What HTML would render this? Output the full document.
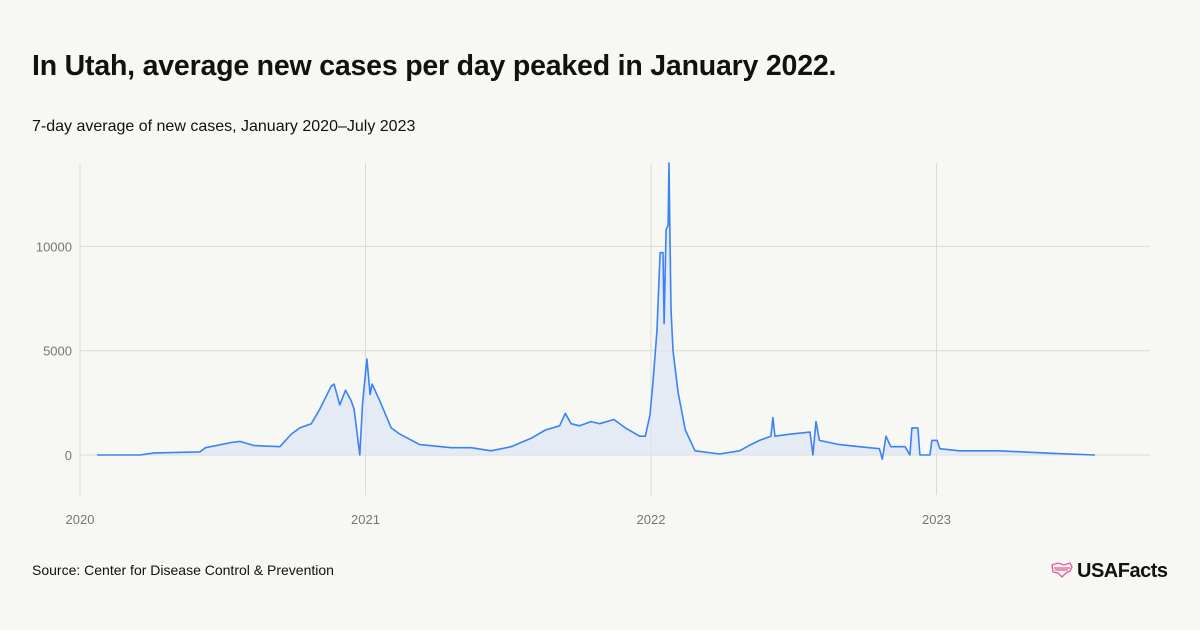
<!DOCTYPE html>
<html><head><meta charset="utf-8"><style>
body{margin:0;background:#f7f7f3;font-family:"Liberation Sans",sans-serif;}
#wrap{position:relative;width:1200px;height:630px;overflow:hidden;background:#f7f7f3}
h1{position:absolute;left:32px;top:50px;margin:0;font-size:28.5px;font-weight:bold;color:#111;letter-spacing:-0.2px}
.sub{position:absolute;left:32px;top:118px;font-size:16px;color:#111}
.src{position:absolute;left:32px;top:562px;font-size:14px;color:#111}
.logo{position:absolute;left:1050px;top:560px;font-size:20px;font-weight:bold;color:#111;letter-spacing:-0.5px}
</style></head><body>
<div id="wrap">
<h1>In Utah, average new cases per day peaked in January 2022.</h1>
<div class="sub">7-day average of new cases, January 2020–July 2023</div>
<svg id="chart" width="1200" height="630" style="position:absolute;left:0;top:0"></svg>
<div class="src">Source: Center for Disease Control &amp; Prevention</div>
<div class="logo"><svg width="24" height="18" viewBox="0 0 24 18" style="vertical-align:-2px;margin-right:3px"><path d="M2 4 L8 2 L14 4 L20 2 L22 6 L20 10 L16 12 L12 16 L8 12 L3 11 Z M4 7 L20 7 M5 9 L18 9" fill="none" stroke="#e8569c" stroke-width="1.3"/></svg>USAFacts</div>
</div>
<script>
const years=[0.06,0.21,0.26,0.42,0.44,0.53,0.56,0.61,0.70,0.74,0.77,0.81,0.84,0.88,0.89,0.91,0.93,0.95,0.96,0.98,0.99,1.005,1.016,1.023,1.05,1.09,1.12,1.19,1.30,1.37,1.44,1.51,1.58,1.63,1.68,1.70,1.72,1.75,1.79,1.82,1.87,1.91,1.96,1.98,1.996,2.007,2.021,2.032,2.042,2.046,2.053,2.06,2.063,2.067,2.07,2.077,2.095,2.12,2.154,2.24,2.31,2.35,2.38,2.42,2.427,2.434,2.49,2.557,2.567,2.578,2.59,2.66,2.73,2.80,2.81,2.823,2.84,2.89,2.907,2.914,2.935,2.942,2.977,2.984,3.002,3.012,3.08,3.22,3.40,3.555];
const cases=[0,0,100,150,350,600,650,450,400,1000,1300,1500,2200,3300,3400,2400,3100,2600,2200,0,2500,4600,2900,3400,2600,1300,1000,500,350,350,200,400,800,1200,1400,2000,1500,1400,1600,1500,1700,1300,900,900,1900,3500,6000,9700,9700,6300,10800,11000,14000,10000,7000,5000,3000,1200,200,50,200,500,700,900,1800,900,1000,1100,0,1600,700,500,400,300,-200,900,400,400,0,1300,1300,0,0,700,700,300,200,200,80,0];
const yTicks=[0,5000,10000];
const xTicks=[2020,2021,2022,2023];
const NS="http://www.w3.org/2000/svg",svg=document.getElementById('chart');
const xs=t=>80+t*285.5, ys=v=>455-v*0.02086;
function mk(tag,a){const e=document.createElementNS(NS,tag);for(const k in a)e.setAttribute(k,a[k]);svg.appendChild(e);return e;}
yTicks.forEach(v=>{const l=mk('line',{x1:80,x2:1150,y1:ys(v),y2:ys(v),stroke:'#dcdcd6'});


const t=mk('text',{x:72,y:ys(v)+5,'text-anchor':'end','font-size':13,fill:'#777','font-family':'Liberation Sans'});t.textContent=v;

});
xTicks.forEach(y=>{const x=xs(y-2020);const l=mk('line',{x1:x,x2:x,y1:163,y2:495,stroke:'#dcdcd6'});


const t=mk('text',{x:x,y:524,'text-anchor':'middle','font-size':13,fill:'#777','font-family':'Liberation Sans'});t.textContent=y;

});
let d=years.map((t,i)=>(i?'L':'M')+xs(t).toFixed(1)+','+ys(cases[i]).toFixed(1)).join('');
const a=mk('path',{d:d+'L'+xs(years[years.length-1])+','+ys(0)+'L'+xs(years[0])+','+ys(0)+'Z',fill:'#dbe6f5','fill-opacity':0.7});


const p=mk('path',{d:d,fill:'none',stroke:'#3b82f6','stroke-width':1.6,'stroke-linejoin':'round'});


</script>
</body></html>
